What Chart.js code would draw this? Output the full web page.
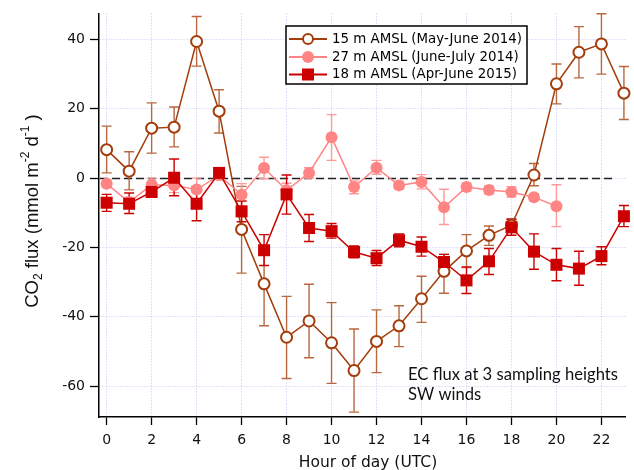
<!DOCTYPE html>
<html>
<head>
<meta charset="utf-8">
<script src="https://cdn.jsdelivr.net/npm/chart.js@4.4.0/dist/chart.umd.min.js"></script>
<style>
html,body{margin:0;padding:0;background:#fff;}
#wrap{width:634px;height:470px;position:relative;}
</style>
</head>
<body>
<div id="wrap"><canvas id="c" width="634" height="470"></canvas></div>
<script>
// ---- data ----
const hours = [0,1,2,3,4,5,6,7,8,9,10,11,12,13,14,15,16,17,18,19,20,21,22,23];
const xTickValues = [0,2,4,6,8,10,12,14,16,18,20,22];
const yTickValues = [-60,-40,-20,0,20,40];
const seriesLabels = ['15 m AMSL (May-June 2014)','27 m AMSL (June-July 2014)','18 m AMSL (Apr-June 2015)'];

// 15 m AMSL (May-June 2014)
const flux15   = [8.2, 2.0, 14.4, 14.7, 39.4, 19.3, -14.8, -30.5, -45.9, -41.2, -47.5, -55.5, -47.1, -42.6, -34.8, -26.9, -21.0, -16.5, -13.6, 0.9, 27.2, 36.3, 38.7, 24.5];
const flux15Hi = [15.0, 7.6, 21.7, 20.5, 46.6, 25.5, -2.4, -20.0, -34.1, -30.6, -35.9, -43.5, -38.0, -36.8, -28.3, -22.0, -16.3, -13.8, -12.0, 4.2, 32.9, 43.7, 47.4, 32.2];
const flux15Lo = [1.5, -3.4, 7.2, 9.0, 32.3, 13.0, -27.4, -42.6, -57.8, -51.8, -59.2, -67.5, -56.1, -48.6, -41.6, -33.2, -25.8, -19.4, -15.2, -2.2, 21.4, 28.9, 30.0, 16.9];

// 27 m AMSL (June-July 2014)
const flux27   = [-1.6, -7.0, -1.9, -2.1, -3.3, 0.8, -4.8, 2.9, -3.5, 1.5, 11.8, -2.6, 3.0, -2.1, -1.1, -8.4, -2.6, -3.4, -4.0, -5.5, -8.1];
const flux27Hi = [-0.5, -5.5, 0.0, 0.0, 0.0, 2.0, -1.6, 6.0, -1.5, 3.0, 18.3, -0.8, 5.1, -1.0, 1.0, -3.2, -1.5, -2.3, -2.5, -4.5, -1.9];
const flux27Lo = [-2.7, -8.5, -3.8, -4.2, -6.6, -0.4, -8.0, -0.2, -5.5, 0.0, 5.1, -4.5, 1.1, -3.2, -3.1, -13.4, -3.7, -4.5, -5.5, -6.5, -14.0];

// 18 m AMSL (Apr-June 2015)
const flux18   = [-7.1, -7.4, -4.0, 0.1, -7.4, 1.5, -9.6, -20.8, -4.7, -14.4, -15.3, -21.3, -23.1, -17.9, -19.8, -24.2, -29.5, -24.0, -14.2, -21.2, -25.0, -26.1, -22.5, -11.0];
const flux18Hi = [-4.7, -4.3, -2.4, 5.5, -2.5, 2.5, -6.6, -16.3, 0.9, -10.5, -13.1, -19.6, -20.9, -16.1, -17.0, -22.0, -25.6, -20.3, -11.8, -16.1, -20.3, -21.1, -19.8, -7.9];
const flux18Lo = [-9.6, -10.2, -5.3, -5.1, -12.3, 0.5, -12.6, -25.2, -10.4, -18.3, -17.3, -23.0, -25.2, -19.8, -22.5, -26.6, -33.3, -27.8, -16.5, -26.3, -29.6, -30.9, -25.0, -14.0];

const annotationLines = ['EC flux at 3 sampling heights','SW winds'];
const xTitle = 'Hour of day (UTC)';

// ---- styling ----
const BROWN = '#a33d0c', BROWN_ERR = '#b8683e';
const PINK = '#ff8585', PINK_ERR = '#ff9a9a';
const RED = '#cc0000';
const TICK_FONT = 'DejaVu Sans';

function pts(vals){ return vals.map((v,i)=>({x:hours[i], y:v})); }

const datasets = [
  { label: seriesLabels[0], data: pts(flux15), errHi: flux15Hi, errLo: flux15Lo, errColor: BROWN_ERR,
    borderColor: BROWN, borderWidth: 1.5, pointStyle: 'circle', pointRadius: 5.5,
    pointBackgroundColor: '#fff', pointBorderColor: BROWN, pointBorderWidth: 2, order: 3, legendKind: 'open' },
  { label: seriesLabels[1], data: pts(flux27), errHi: flux27Hi, errLo: flux27Lo, errColor: PINK_ERR,
    borderColor: PINK, borderWidth: 1.5, pointStyle: 'circle', pointRadius: 6,
    pointBackgroundColor: PINK, pointBorderColor: PINK, pointBorderWidth: 0, order: 2, legendKind: 'dot' },
  { label: seriesLabels[2], data: pts(flux18), errHi: flux18Hi, errLo: flux18Lo, errColor: RED,
    borderColor: RED, borderWidth: 1.5, pointStyle: 'rect', pointRadius: 8.5,
    pointBackgroundColor: RED, pointBorderColor: RED, pointBorderWidth: 0, order: 1, legendKind: 'square' }
];
datasets.forEach(d => { d.showLine = true; d.clip = false; d.tension = 0; d.fill = false; });

function fitFont(ctx, text, family, weight, target){
  ctx.font = weight + ' 20px "' + family + '"';
  const w = ctx.measureText(text).width;
  return 20 * target / w;
}

const overlay = {
  id: 'overlay',
  beforeDatasetsDraw(chart){
    const {ctx, chartArea} = chart;
    const xs = chart.scales.x, ys = chart.scales.y;
    // dashed zero line
    ctx.save();
    ctx.strokeStyle = '#222';
    ctx.lineWidth = 1.4;
    ctx.setLineDash([8,4]);
    const y0 = Math.round(ys.getPixelForValue(0)) + 0.5;
    ctx.beginPath();
    ctx.moveTo(chartArea.left + 1, y0);
    ctx.lineTo(xs.getPixelForValue(22.55), y0);
    ctx.stroke();
    ctx.restore();
    // error bars
    const order = [0,1,2];
    order.forEach(di => {
      const ds = chart.data.datasets[di];
      ctx.save();
      ctx.strokeStyle = ds.errColor;
      ctx.lineWidth = 1.4;
      ds.data.forEach((p,i) => {
        if (p.y == null) return;
        const px = xs.getPixelForValue(p.x);
        const yh = ys.getPixelForValue(ds.errHi[i]);
        const yl = ys.getPixelForValue(ds.errLo[i]);
        ctx.beginPath();
        ctx.moveTo(px, yh); ctx.lineTo(px, yl);
        ctx.moveTo(px - 5, yh); ctx.lineTo(px + 5, yh);
        ctx.moveTo(px - 5, yl); ctx.lineTo(px + 5, yl);
        ctx.stroke();
      });
      ctx.restore();
    });
  },
  afterDraw(chart){
    const {ctx, chartArea} = chart;
    ctx.save();
    // legend box
    const bx = 286, by = 26, bw = 241, bh = 58;
    ctx.fillStyle = '#fff';
    ctx.fillRect(bx, by, bw, bh);
    ctx.strokeStyle = '#000';
    ctx.lineWidth = 1.5;
    ctx.strokeRect(bx, by, bw, bh);
    const rowsY = [39, 57, 74.5];
    const lfs = fitFont(ctx, seriesLabels[0], 'DejaVu Sans', 'normal', 190);
    chart.data.datasets.forEach((ds, i) => {
      const yy = rowsY[i];
      ctx.strokeStyle = ds.borderColor;
      ctx.lineWidth = 2;
      ctx.setLineDash([]);
      ctx.beginPath(); ctx.moveTo(289, yy); ctx.lineTo(327, yy); ctx.stroke();
      if (ds.legendKind === 'open') {
        ctx.fillStyle = '#fff'; ctx.lineWidth = 2;
        ctx.beginPath(); ctx.arc(308, yy, 5, 0, Math.PI*2); ctx.fill(); ctx.stroke();
      } else if (ds.legendKind === 'dot') {
        ctx.fillStyle = ds.pointBackgroundColor;
        ctx.beginPath(); ctx.arc(308, yy, 6, 0, Math.PI*2); ctx.fill();
      } else {
        ctx.fillStyle = ds.pointBackgroundColor;
        ctx.fillRect(302, yy - 6, 12, 12);
      }
      ctx.fillStyle = '#000';
      ctx.font = lfs.toFixed(2) + 'px "DejaVu Sans"';
      ctx.textBaseline = 'middle';
      ctx.textAlign = 'left';
      ctx.fillText(ds.label, 332, yy + 0.5);
    });
    // annotation
    const afs = fitFont(ctx, annotationLines[0], 'Lato', 'normal', 210);
    ctx.font = afs.toFixed(2) + 'px "Lato"';
    ctx.fillStyle = '#111';
    ctx.textBaseline = 'alphabetic';
    ctx.textAlign = 'left';
    ctx.fillText(annotationLines[0], 408, 380);
    ctx.fillText(annotationLines[1], 408, 399.5);
    // x title
    ctx.font = '15.5px "' + TICK_FONT + '"';
    ctx.textAlign = 'center';
    ctx.fillStyle = '#111';
    ctx.fillText(xTitle, 368, 467);
    // y title with sub/superscripts
    const big = '18.5px "Liberation Sans"', small = '12px "Liberation Sans"';
    const parts = [
      {t:'CO', f:big, dy:0},
      {t:'2', f:small, dy:4},
      {t:' flux (mmol m', f:big, dy:0},
      {t:'-2', f:small, dy:-9},
      {t:' d', f:big, dy:0},
      {t:'-1', f:small, dy:-9},
      {t:' )', f:big, dy:0}
    ];
    let total = 0;
    parts.forEach(p => { ctx.font = p.f; p.w = ctx.measureText(p.t).width; total += p.w; });
    ctx.translate(37.5, 211);
    ctx.rotate(-Math.PI/2);
    ctx.textAlign = 'left';
    ctx.textBaseline = 'alphabetic';
    let cx = -total/2;
    parts.forEach(p => { ctx.font = p.f; ctx.fillText(p.t, cx, p.dy); cx += p.w; });
    ctx.restore();
  }
};

new Chart(document.getElementById('c'), {
  type: 'scatter',
  data: { datasets },
  options: {
    responsive: false,
    animation: false,
    devicePixelRatio: 1,
    layout: { padding: { top: 12, right: 1, left: 0, bottom: 0 } },
    plugins: { legend: { display: false }, tooltip: { enabled: false } },
    scales: {
      x: {
        type: 'linear', min: -0.34, max: 23.07,
        afterFit(s){ s.height = 53; },
        afterBuildTicks(s){ s.ticks = xTickValues.map(v => ({value: v})); },
        grid: { color: '#c4c4f4', lineWidth: 1, drawTicks: true, tickLength: 8, tickColor: '#000', tickWidth: 1.3 },
        border: { display: true, color: '#000', width: 1.5, dash: [1,2] },
        ticks: { color: '#111', font: { family: TICK_FONT, size: 14 }, padding: 7, maxRotation: 0, autoSkip: false }
      },
      y: {
        type: 'linear', min: -68.9, max: 47.5,
        afterFit(s){ s.width = 99; },
        afterBuildTicks(s){ s.ticks = yTickValues.map(v => ({value: v})); },
        grid: { color: '#c4c4f4', lineWidth: 1, drawTicks: true, tickLength: 9, tickColor: '#000', tickWidth: 1.3 },
        border: { display: true, color: '#000', width: 1.5, dash: [1,2] },
        ticks: { color: '#111', font: { family: TICK_FONT, size: 14 }, padding: 5, autoSkip: false }
      }
    }
  },
  plugins: [overlay]
});
</script>
</body>
</html>
